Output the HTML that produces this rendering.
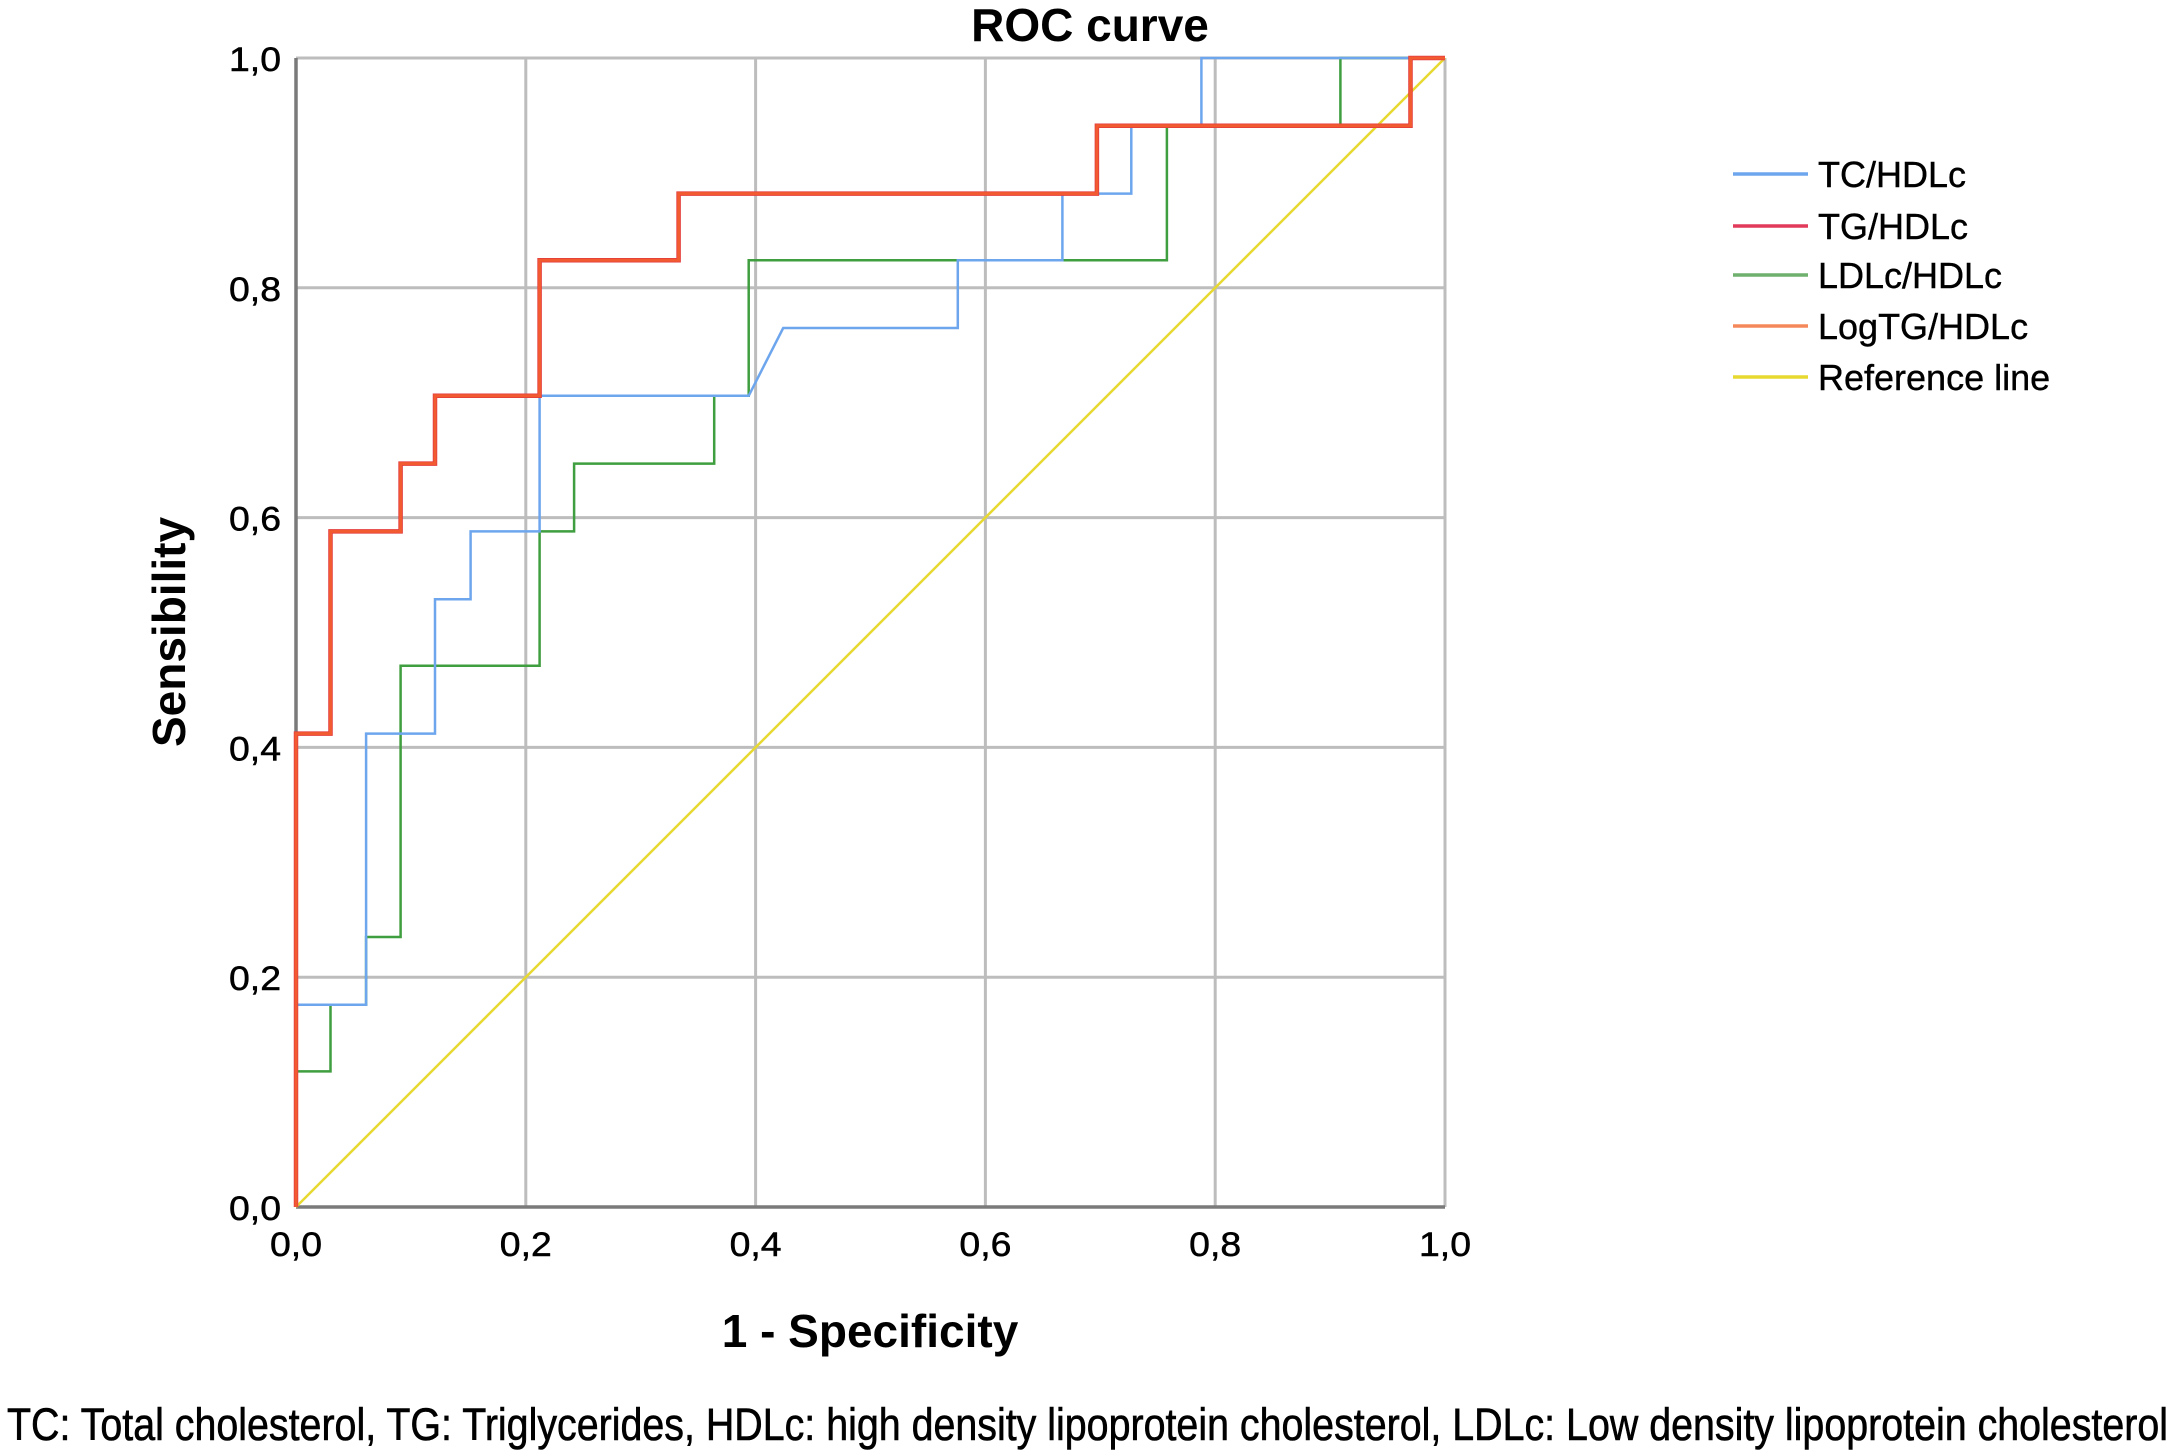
<!DOCTYPE html>
<html><head><meta charset="utf-8"><style>
html,body{margin:0;padding:0;background:#fff;}
svg{display:block;font-family:"Liberation Sans",Arial,sans-serif;}
</style></head><body>
<svg id="chart" width="2175" height="1455" viewBox="0 0 2175 1455" xmlns="http://www.w3.org/2000/svg">
<rect width="2175" height="1455" fill="#fff"/>
<text x="1090" y="41" font-size="46" font-weight="bold" text-anchor="middle">ROC curve</text>
<g id="grid"></g>
<g id="series"></g>
<g id="ticks"></g>
<text transform="translate(185,632) rotate(-90)" font-size="46" font-weight="bold" text-anchor="middle">Sensibility</text>
<text x="870" y="1347" font-size="46" font-weight="bold" text-anchor="middle">1 - Specificity</text>
<g id="legend"></g>
<text x="7" y="1440" font-size="45" stroke="#000" stroke-width="0.6" textLength="2161" lengthAdjust="spacingAndGlyphs">TC: Total cholesterol, TG: Triglycerides, HDLc: high density lipoprotein cholesterol, LDLc: Low density lipoprotein cholesterol</text>
</svg>
<script>
const tickValues = [0, 0.2, 0.4, 0.6, 0.8, 1.0];
const tickLabels = ["0,0","0,2","0,4","0,6","0,8","1,0"];
const seriesNames = ["TC/HDLc","TG/HDLc","LDLc/HDLc","LogTG/HDLc","Reference line"];
const tcX = [0,0,0.061,0.061,0.121,0.121,0.152,0.152,0.212,0.212,0.394,0.424,0.576,0.576,0.667,0.667,0.727,0.727,0.788,0.788,1];
const tcY = [0,0.176,0.176,0.412,0.412,0.529,0.529,0.588,0.588,0.706,0.706,0.765,0.765,0.824,0.824,0.882,0.882,0.941,0.941,1,1];
const tgX = [0,0,0.03,0.03,0.091,0.091,0.121,0.121,0.212,0.212,0.333,0.333,0.697,0.697,0.97,0.97,1];
const tgY = [0,0.412,0.412,0.588,0.588,0.647,0.647,0.706,0.706,0.824,0.824,0.882,0.882,0.941,0.941,1,1];
const ldlX = [0,0,0.03,0.03,0.061,0.061,0.091,0.091,0.212,0.212,0.242,0.242,0.364,0.364,0.394,0.394,0.758,0.758,0.909,0.909,1];
const ldlY = [0,0.118,0.118,0.176,0.176,0.235,0.235,0.471,0.471,0.588,0.588,0.647,0.647,0.706,0.706,0.824,0.824,0.941,0.941,1,1];
const logX = [0,0,0.03,0.03,0.091,0.091,0.121,0.121,0.212,0.212,0.333,0.333,0.697,0.697,0.97,0.97,1];
const logY = [0,0.412,0.412,0.588,0.588,0.647,0.647,0.706,0.706,0.824,0.824,0.882,0.882,0.941,0.941,1,1];
const refX = [0,1];
const refY = [0,1];

const NS="http://www.w3.org/2000/svg";
const L=296,R=1445,T=58,B=1207;
const sx=v=>L+v*(R-L);
const sy=v=>B-v*(B-T);
function mk(tag,attrs,parent){const e=document.createElementNS(NS,tag);for(const k in attrs)e.setAttribute(k,attrs[k]);parent.appendChild(e);return e;}
const grid=document.getElementById('grid');
tickValues.forEach((v,i)=>{
  if(v>0){
    const gv=mk('line',{x1:sx(v),x2:sx(v),y1:T,y2:B,stroke:'#bdbdbd','stroke-width':3},grid);
    
    
    const gh=mk('line',{x1:L,x2:R,y1:sy(v),y2:sy(v),stroke:'#bdbdbd','stroke-width':3},grid);
    
    
  }
});
const ax=mk('line',{x1:L,x2:L,y1:T,y2:B,stroke:'#7a7a7a','stroke-width':3.5},grid);


const bx=mk('line',{x1:L,x2:R,y1:B,y2:B,stroke:'#7a7a7a','stroke-width':3.5},grid);



const ticks=document.getElementById('ticks');
tickValues.forEach((v,i)=>{
  const t1=mk('text',{x:281,y:sy(v)+13,'font-size':34,'text-anchor':'end',stroke:'#000','stroke-width':0.5,textLength:52,lengthAdjust:'spacingAndGlyphs'},ticks);
  t1.textContent=tickLabels[i];
  
  
  const t2=mk('text',{x:sx(v),y:1256,'font-size':34,'text-anchor':'middle',stroke:'#000','stroke-width':0.5,textLength:52,lengthAdjust:'spacingAndGlyphs'},ticks);
  t2.textContent=tickLabels[i];
  
  
});

const series=document.getElementById('series');
function path(xs,ys){return xs.map((x,i)=>(i?'L':'M')+sx(x).toFixed(1)+','+sy(ys[i]).toFixed(1)).join(' ');}
const defs=[
  {x:refX,y:refY,c:'#e8d930',w:2.5,n:'reference-line'},
  {x:ldlX,y:ldlY,c:'#3f9e3f',w:2.5,n:'ldlc-hdlc-curve'},
  {x:tcX,y:tcY,c:'#6ea6ee',w:2.5,n:'tc-hdlc-curve'},
  {x:tgX,y:tgY,c:'#e23a3e',w:4.5,n:'tg-hdlc-curve'},
  {x:logX,y:logY,c:'#f25a30',w:3,n:'logtg-hdlc-curve'}
];
defs.forEach(d=>{
  const p=mk('path',{d:path(d.x,d.y),fill:'none',stroke:d.c,'stroke-width':d.w,'stroke-linejoin':'miter'},series);
  
  
});

const legend=document.getElementById('legend');
const legColors=['#6ea6ee','#e23a5a','#6fb06f','#f5885a','#e8d930'];
const legY=[174,226,275,326,377];
seriesNames.forEach((n,i)=>{
  const ln=mk('line',{x1:1733,x2:1808,y1:legY[i],y2:legY[i],stroke:legColors[i],'stroke-width':3.5},legend);
  
  
  const tx=mk('text',{x:1818,y:legY[i]+13,'font-size':36,stroke:'#000','stroke-width':0.4},legend);
  tx.textContent=n;
  
  
});
</script>
</body></html>
